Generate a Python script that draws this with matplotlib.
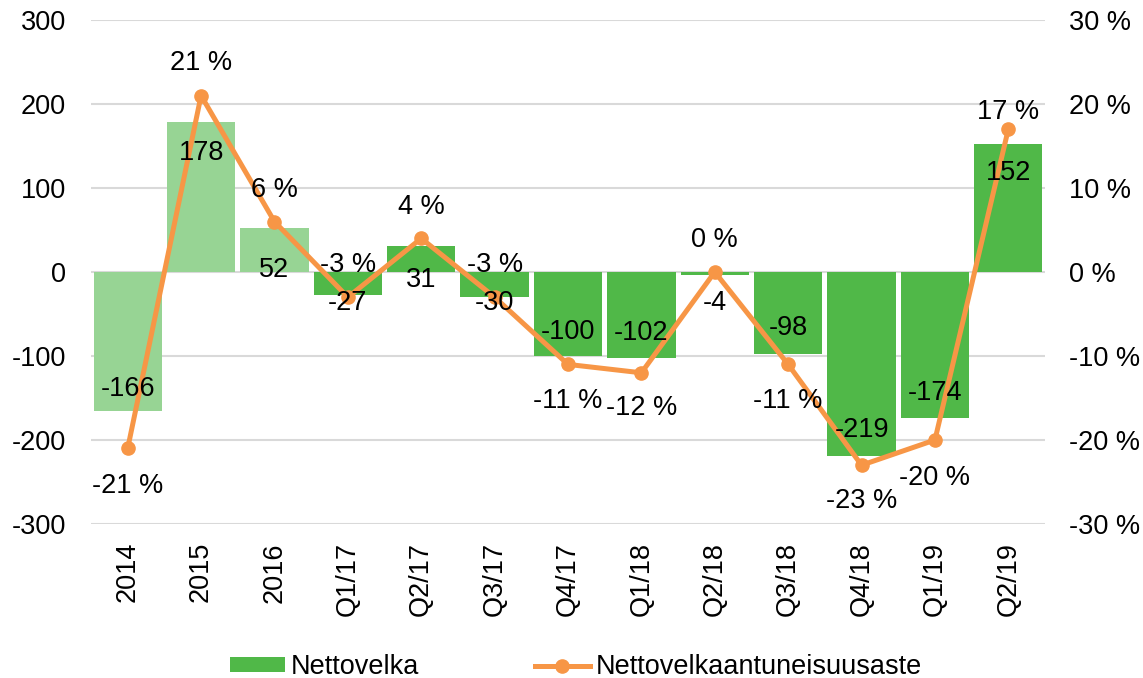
import matplotlib
matplotlib.use("Agg")
import matplotlib.pyplot as plt
from matplotlib.patches import Patch
from matplotlib.lines import Line2D

plt.rcParams["font.family"] = ["Liberation Sans", "DejaVu Sans"]
plt.rcParams["axes.unicode_minus"] = False

categories = ["2014", "2015", "2016", "Q1/17", "Q2/17", "Q3/17", "Q4/17",
              "Q1/18", "Q2/18", "Q3/18", "Q4/18", "Q1/19", "Q2/19"]
nettovelka = [-166, 178, 52, -27, 31, -30, -100, -102, -4, -98, -219, -174, 152]
aste = [-21, 21, 6, -3, 4, -3, -11, -12, 0, -11, -23, -20, 17]
light_years = 3  # first three bars are annual figures, drawn lighter

# label offsets in pixels (positive = down on screen)
bar_label_dy = [-22, 31, 42, 8, 34, 6, -24, -25, 28, -26, -26, -25, 29]
pct_label_dy = [38, -33, -32, -32, -31, -32, 37, 35, -32, 37, 36, 38, -17]

GREEN = "#50B848"
LIGHT_GREEN = "#97D494"
ORANGE = "#F79646"
GRID = "#D9D9D9"
FS = 19.5

fig = plt.figure(figsize=(11.43, 6.78), dpi=100)
ax = fig.add_axes([91 / 1143, 1 - 524 / 678, (1045 - 91) / 1143, (524 - 20) / 678])
ax2 = ax.twinx()

x = list(range(len(categories)))
colors = [LIGHT_GREEN if i < light_years else GREEN for i in x]
ax.bar(x, nettovelka, width=0.93, color=colors, zorder=2)
ax.set_ylim(-300, 300)
ax.set_yticks(range(-300, 301, 100))
ax.set_xlim(-0.5, len(categories) - 0.5)
ax.set_xticks(x)
ax.set_xticklabels(categories, rotation=90, fontsize=FS)
ax.yaxis.grid(True, color=GRID, linewidth=1.5, zorder=0)
ax.set_axisbelow(True)

ax2.plot(x, aste, color=ORANGE, linewidth=3.6, marker="o", markersize=9.5, zorder=3)
ax2.set_ylim(-30, 30)
ax2.set_yticks(range(-30, 31, 10))
ax2.set_yticklabels([f"{v} %" for v in range(-30, 31, 10)])

for a in (ax, ax2):
    for s in a.spines.values():
        s.set_visible(False)
    a.tick_params(length=0, labelsize=FS)
ax.tick_params(axis="y", pad=18)
ax2.tick_params(axis="y", pad=17)
ax.tick_params(axis="x", pad=13)

px = 72 / 100
for i, v in enumerate(nettovelka):
    ax2.annotate(str(v), xy=(i, v), xycoords=ax.transData,
                 xytext=(0, -bar_label_dy[i] * px), textcoords="offset points",
                 ha="center", va="center", fontsize=FS, zorder=5)
for i, v in enumerate(aste):
    ax2.annotate(f"{v} %", xy=(i, v), xytext=(0, -pct_label_dy[i] * px),
                 textcoords="offset points", ha="center", va="center",
                 fontsize=FS, zorder=5)

handles = [Patch(facecolor=GREEN, label="Nettovelka"),
           Line2D([0], [0], color=ORANGE, linewidth=3.6, marker="o",
                  markersize=9.5, label="Nettovelkaantuneisuusaste")]
fig.legend(handles=handles, loc="center", bbox_to_anchor=(0.504, 0.016), ncol=2,
           frameon=False, fontsize=FS, handlelength=2.05, handleheight=0.48,
           handletextpad=0.22, columnspacing=4.25)

fig.savefig("out.png", dpi=100)
